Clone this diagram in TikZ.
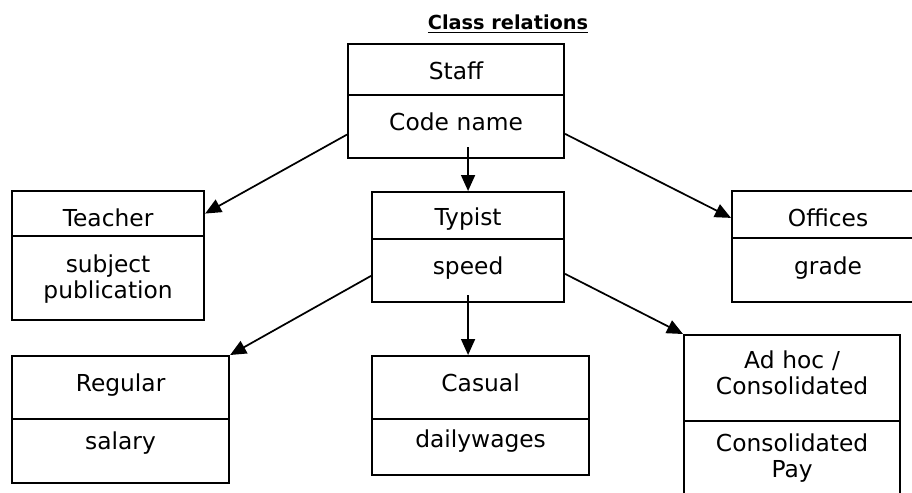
\documentclass[tikz,border=0pt]{standalone}
\usepackage{fontspec}
\setmainfont{DejaVu Sans}
\usepackage{tikz}
\usetikzlibrary{arrows.meta}

\begin{document}
\begin{tikzpicture}[x=0.75pt,y=-0.75pt,
    >={Triangle[length=12pt,width=10.5pt]},
    cell/.style={draw, line width=1.6pt, inner sep=0pt, align=center,
      anchor=north west, font=\fontsize{17.5}{20}\selectfont},
    link/.style={->, line width=1.3pt}]
  \useasboundingbox (0,0) rectangle (912,492);
  \clip (0,0) rectangle (912,492);

  % title
  \node[anchor=base, font=\fontsize{14.5}{17}\selectfont\bfseries] (title) at (508,30)
    {\underline{Class relations}};

  % Staff
  \node[cell, text width=162pt, text height=26.25pt, text depth=12pt] (staffA) at (347,43) {Staff};
  \node[cell, text width=162pt, text height=26.25pt, text depth=21pt] (staffB) at (347,94) {Code name};

  % Teacher
  \node[cell, text width=144pt, text height=26.25pt, text depth=7.5pt] (teacherA) at (11,190) {Teacher};
  \node[cell, text width=144pt, text height=27pt, text depth=36pt] (teacherB) at (11,235) {subject\\publication};

  % Typist
  \node[cell, text width=144pt, text height=24.75pt, text depth=10.5pt] (typistA) at (371,191) {Typist};
  \node[cell, text width=144pt, text height=26.25pt, text depth=21pt] (typistB) at (371,238) {speed};

  % Offices
  \node[cell, text width=144pt, text height=26.25pt, text depth=9pt] (officesA) at (731,190) {Offices};
  \node[cell, text width=144pt, text height=27pt, text depth=21pt] (officesB) at (731,237) {grade};

  % Regular
  \node[cell, text width=162.75pt, text height=26.25pt, text depth=21pt] (regularA) at (11,355) {Regular};
  \node[cell, text width=162.75pt, text height=22.5pt, text depth=25.5pt] (regularB) at (11,418) {salary};

  % Casual
  \node[cell, text width=162.75pt, text height=26.25pt, text depth=21pt] (casualA) at (371,355) {Casual};
  \node[cell, text width=162.75pt, text height=21pt, text depth=21pt] (casualB) at (371,418) {dailywages};

  % Ad hoc
  \node[cell, text width=162pt, text height=24.75pt, text depth=39.75pt] (adhocA) at (683,334) {Ad hoc /\\Consolidated};
  \node[cell, text width=162pt, text height=22.5pt, text depth=45pt] (adhocB) at (683,420) {Consolidated\\Pay};

  % relations
  \draw[link] ([yshift=-6pt]staffB.west) -- (teacherA.east);
  \draw[link] ([yshift=9pt]typistA.north |- staffB.south) -- (typistA.north);
  \draw[link] ([yshift=-5.5pt]staffB.east) -- ([yshift=-2.5pt]officesA.west);
  \draw[link] ([yshift=-4pt]typistB.west) -- (regularA.north east);
  \draw[link] ([yshift=6pt]typistB.south) -- (typistB.south |- casualA.north);
  \draw[link] ([yshift=-2.5pt]typistB.east) -- (adhocA.north west);
\end{tikzpicture}
\end{document}
